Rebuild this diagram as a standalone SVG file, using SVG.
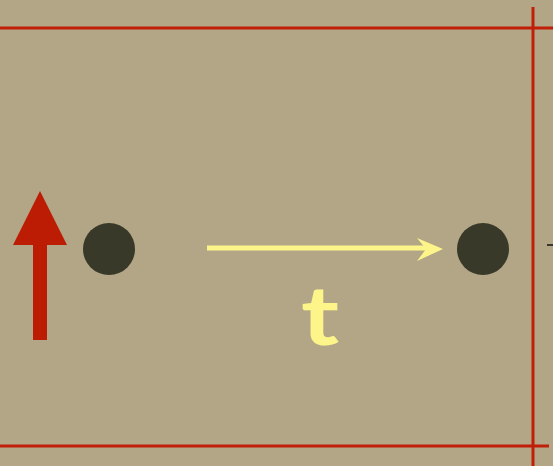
<svg xmlns="http://www.w3.org/2000/svg" width="553" height="466" viewBox="0 0 553 466">
<style>
.frame{stroke:#c01e08;stroke-width:3;fill:none}
.dot{fill:#383929}
</style>
<rect width="553" height="466" fill="#b2a687"/>
<g id="frame">
<line class="frame" x1="0" y1="28" x2="553" y2="28"/>
<line class="frame" x1="533" y1="7" x2="533" y2="466"/>
<line class="frame" x1="0" y1="446" x2="549" y2="446"/>
<line x1="547" y1="245" x2="553" y2="245" stroke="#111" stroke-width="1.5"/>
</g>
<g id="red-arrow">
<rect x="33" y="242" width="14" height="98" fill="#bb1c03"/>
<polygon points="40,191 67,245 13,245" fill="#bb1c03"/>
</g>
<g id="dot-left"><circle class="dot" cx="109" cy="249" r="26"/></g>
<g id="dot-right"><circle class="dot" cx="483" cy="249" r="26"/></g>
<g id="connectors">
<line x1="207" y1="248" x2="432" y2="248" stroke="#fdf58a" stroke-width="5"/>
<polygon points="443,249 417,238 426,249 417,261" fill="#fdf58a"/>
</g>
<text transform="translate(301,345) scale(1.25,1)" x="0" y="0" font-family="Lato, 'Open Sans', sans-serif" font-weight="700" font-size="82" fill="#fdf58a">t</text>
</svg>
